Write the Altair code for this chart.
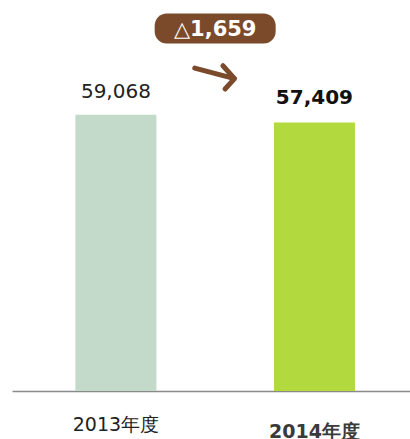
import altair as alt
import pandas as pd

# ---- data ----
years = ["2013年度", "2014年度"]
values = [59068, 57409]
idx = [0, 1]
bar_colors = ["#c3d9c9", "#b2d93e"]
label_weights = ["normal", "bold"]

diff = values[1] - values[0]
diff_label = ("△" if diff < 0 else "+") + f"{abs(diff):,}"

df = pd.DataFrame({
    "year": years,
    "value": values,
    "i": idx,
    "color": bar_colors,
    "weight": label_weights,
    "label": [f"{v:,}" for v in values],
})
mid = pd.DataFrame({"i": [sum(idx) / len(idx)], "label": [diff_label]})

xscale = alt.Scale(domain=[-0.498, 1.456], nice=False, zero=False)
yscale = alt.Scale(domain=[0, 83600], nice=False)
X = alt.X("i:Q", scale=xscale,
          axis=alt.Axis(labels=False, ticks=False, grid=False, title=None,
                        domainColor="#8a8a8a", domainWidth=1.5))
Y = alt.Y("value:Q", scale=yscale, axis=None)

base = alt.Chart(df)

bars = base.mark_bar(size=81).encode(
    x=X, y=Y, color=alt.Color("color:N", scale=None)
)

val_reg = base.transform_filter("datum.weight == 'normal'").mark_text(
    baseline="bottom", dy=-13, fontSize=20, font="DejaVu Sans", color="#222222"
).encode(x="i:Q", y="value:Q", text="label:N")

val_bold = base.transform_filter("datum.weight == 'bold'").mark_text(
    baseline="bottom", dy=-14, fontSize=20, font="DejaVu Sans", fontWeight="bold", color="#111111"
).encode(x="i:Q", y="value:Q", text="label:N")

cat_reg = base.transform_filter("datum.weight == 'normal'").mark_text(
    baseline="middle", dy=34, fontSize=19, font="DejaVu Sans", color="#222222"
).encode(x="i:Q", y=alt.datum(0), text="year:N")

cat_bold = base.transform_filter("datum.weight == 'bold'").mark_text(
    baseline="middle", dy=41, fontSize=19, font="DejaVu Sans", fontWeight="bold", color="#3a3a3a"
).encode(x="i:Q", y=alt.datum(0), text="year:N")

badge_path = ("M -0.8,-0.248 L 0.8,-0.248 A 0.2 0.2 0 0 1 1,-0.048 L 1,0.048 "
              "A 0.2 0.2 0 0 1 0.8,0.248 L -0.8,0.248 A 0.2 0.2 0 0 1 -1,0.048 "
              "L -1,-0.048 A 0.2 0.2 0 0 1 -0.8,-0.248 Z")
badge = alt.Chart(mid).mark_point(
    shape=badge_path, size=14641, filled=True, fill="#7b4a2b", opacity=1, strokeWidth=0
).encode(x="i:Q", y=alt.value(28.5))

badge_text = alt.Chart(mid).mark_text(
    fontSize=21, font="DejaVu Sans", fontWeight="bold", color="white", baseline="middle"
).encode(x="i:Q", y=alt.value(29.5), text="label:N")

arrow_path = "M -0.95,-0.25 L 0.9,0.24 M 0.36,-0.36 L 0.9,0.24 L 0.46,0.72"
arrow = alt.Chart(mid).mark_point(
    shape=arrow_path, size=1849, filled=False, stroke="#7b4a2b", strokeWidth=5,
    opacity=1, strokeCap="round", strokeJoin="round"
).encode(x="i:Q", y=alt.value(73.5))

chart = alt.layer(bars, val_reg, val_bold, cat_reg, cat_bold, badge, badge_text, arrow).properties(
    width=398, height=391,
    padding={"left": 12, "top": 0, "right": 0, "bottom": 48},
    autosize=alt.AutoSizeParams(type="none"),
).configure_view(stroke=None)

chart.save("out.html", embed_options={"renderer": "svg", "actions": False})
